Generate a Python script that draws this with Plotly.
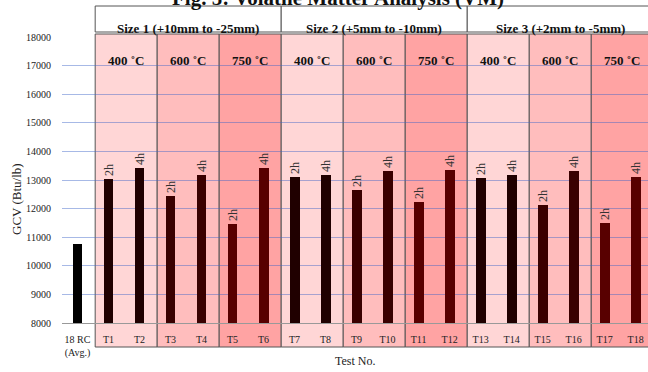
import plotly.graph_objects as go

categories = ["18 RC<br>(Avg.)"] + [f"T{i}" for i in range(1, 19)]
gcv_values = [10760, 13050, 13420, 12450, 13190, 11460, 13420, 13100, 13190,
              12640, 13300, 12230, 13340, 13070, 13190, 12110, 13300, 11480, 13100]
durations = [""] + ["2h", "4h"] * 9
temps = ["400 ˚C", "600 ˚C", "750 ˚C"] * 3
sizes = ["Size 1 (+10mm to -25mm)", "Size 2 (+5mm to -10mm)", "Size 3 (+2mm to -5mm)"]
y_ticks = list(range(8000, 18001, 1000))

panel_fill = {"400 ˚C": "#FFD6D6", "600 ˚C": "#FFBDBD", "750 ˚C": "#FFA3A3"}
bar_fill = {"400 ˚C": "#200000", "600 ˚C": "#3A0000", "750 ˚C": "#580000"}

xs = list(range(len(categories)))
colors = ["#000000"] + [bar_fill[temps[(i - 1) // 2]] for i in range(1, 19)]

SERIF = "Liberation Serif, Times New Roman, serif"

fig = go.Figure()
fig.add_trace(go.Bar(
    x=xs, y=gcv_values, marker=dict(color=colors, line=dict(width=0)),
    width=0.32, text=durations, textposition="outside", textangle=-90,
    constraintext="none",
    textfont=dict(family=SERIF, size=12, color="#333"), cliponaxis=False,
    showlegend=False, hoverinfo="skip",
))

H = 286.0
W = 586.0
def py(p):
    return (323 - p) / H
def px(p):
    return (p - 62) / W

shapes = []
annotations = []
off = 0.57
for k, t in enumerate(temps):
    x0 = off + 2 * k
    x1 = x0 + 2
    shapes.append(dict(type="rect", xref="x", yref="paper", x0=x0, x1=x1,
                       y0=py(347), y1=py(34), fillcolor=panel_fill[t],
                       line=dict(color="#555555", width=1), layer="below"))
    annotations.append(dict(x=(x0 + x1) / 2, y=py(51), xref="x", yref="paper",
                            text=f"<b>{t}</b>", showarrow=False,
                            font=dict(family=SERIF, size=13, color="#111")))
for s, name in enumerate(sizes):
    x0 = off + 6 * s
    x1 = x0 + 6
    shapes.append(dict(type="rect", xref="x", yref="paper", x0=x0, x1=x1,
                       y0=py(32), y1=py(6), fillcolor="white",
                       line=dict(color="#555555", width=1), layer="below"))
    annotations.append(dict(x=(x0 + x1) / 2, y=py(19), xref="x", yref="paper",
                            text=f"<b>{name}</b>", showarrow=False,
                            font=dict(family=SERIF, size=13, color="#111")))

annotations.append(dict(x=px(338), y=py(-2), xref="paper", yref="paper",
                        text="<b>Fig. 5: Volatile Matter Analysis (VM)</b>",
                        showarrow=False, font=dict(family=SERIF, size=21, color="#111"),
                        xanchor="center", yanchor="middle"))
annotations.append(dict(x=px(355), y=py(361), xref="paper", yref="paper",
                        text="Test No.", showarrow=False, xanchor="center",
                        yanchor="middle",
                        font=dict(family=SERIF, size=12, color="#222")))
annotations.append(dict(x=px(16), y=py(199), xref="paper", yref="paper",
                        text="GCV (Btu/lb)", showarrow=False, textangle=-90,
                        xanchor="center", yanchor="middle",
                        font=dict(family=SERIF, size=13, color="#222")))

fig.update_layout(
    width=648, height=372,
    margin=dict(l=62, r=0, t=37, b=49, autoexpand=False),
    paper_bgcolor="white", plot_bgcolor="rgba(0,0,0,0)",
    shapes=shapes, annotations=annotations, bargap=0,
    xaxis=dict(range=[-0.5, 18.4], tickmode="array", tickvals=xs, ticktext=categories,
               automargin=False,
               showgrid=False, zeroline=False, showline=True, linecolor="#999999",
               ticks="outside", ticklen=7, tickcolor="rgba(0,0,0,0)",
               tickfont=dict(family=SERIF, size=10, color="#222"), tickangle=0),
    yaxis=dict(range=[8000, 18000], tickmode="array", tickvals=y_ticks,
               ticktext=[str(v) for v in y_ticks], automargin=False,
               showgrid=True, gridcolor="rgba(60,100,200,0.45)", gridwidth=1,
               zeroline=False, ticks="outside", ticklen=8, tickcolor="rgba(0,0,0,0)",
               tickfont=dict(family=SERIF, size=10, color="#222")),
)

fig.write_html("out.html", config={"displayModeBar": False},
               post_script="document.body.style.margin='0';document.body.style.overflow='hidden';")
